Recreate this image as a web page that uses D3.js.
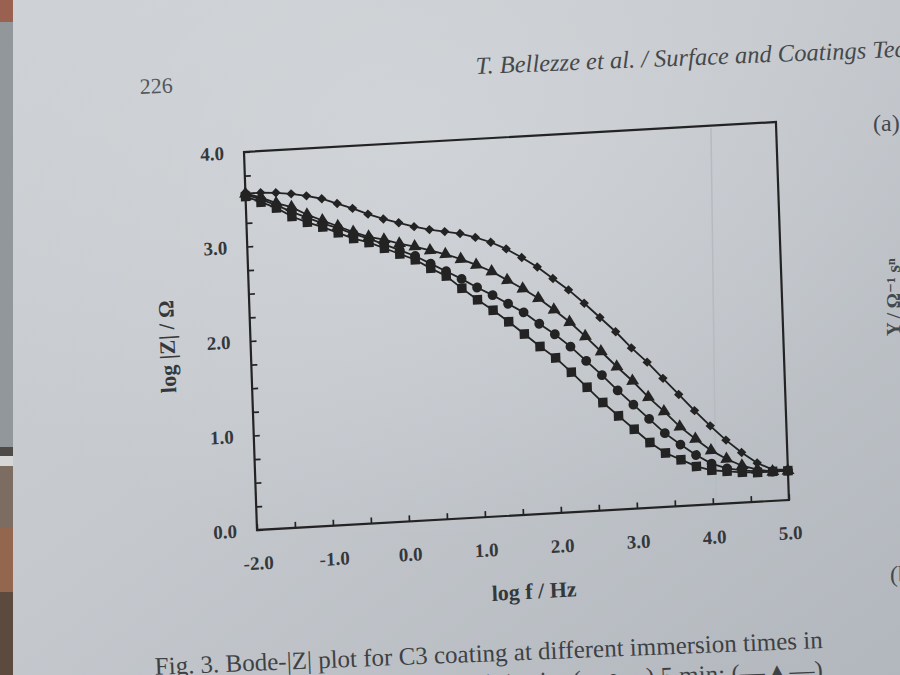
<!DOCTYPE html>
<html>
<head>
<meta charset="utf-8">
<script src="https://cdn.jsdelivr.net/npm/d3@7"></script>
<style>
  html, body { margin: 0; padding: 0; background: #c4c8cd; }
  svg { display: block; }
</style>
</head>
<body>
<svg id="chart" width="900" height="675"></svg>
<script>
// Bode |Z| plot, C3 coating, four immersion times
const logF = [-2.0, -1.8, -1.6, -1.4, -1.2, -1.0, -0.8, -0.6, -0.4, -0.2,
               0.0,  0.2,  0.4,  0.6,  0.8,  1.0,  1.2,  1.4,  1.6,  1.8,
               2.0,  2.2,  2.4,  2.6,  2.8,  3.0,  3.2,  3.4,  3.6,  3.8,
               4.0,  4.2,  4.4,  4.6,  4.8,  5.0];

const zDiamond  = [3.56, 3.56, 3.55, 3.53, 3.50, 3.46, 3.40, 3.34, 3.27, 3.21,
                   3.16, 3.11, 3.07, 3.04, 3.01, 2.96, 2.90, 2.82, 2.72, 2.61,
                   2.48, 2.35, 2.20, 2.04, 1.88, 1.70, 1.54, 1.36, 1.18, 1.00,
                   0.83, 0.67, 0.53, 0.41, 0.33, 0.32];
const zTriangle = [3.56, 3.51, 3.44, 3.39, 3.30, 3.23, 3.16, 3.09, 3.03, 2.99,
                   2.94, 2.90, 2.85, 2.80, 2.74, 2.67, 2.59, 2.49, 2.39, 2.28,
                   2.15, 2.01, 1.85, 1.68, 1.51, 1.35, 1.17, 1.01, 0.84, 0.70,
                   0.57, 0.47, 0.39, 0.34, 0.31, 0.31];
const zCircle   = [3.55, 3.49, 3.42, 3.34, 3.27, 3.20, 3.14, 3.07, 3.01, 2.94,
                   2.87, 2.80, 2.71, 2.62, 2.53, 2.43, 2.34, 2.24, 2.14, 2.01,
                   1.89, 1.75, 1.59, 1.43, 1.26, 1.10, 0.94, 0.78, 0.65, 0.53,
                   0.43, 0.37, 0.34, 0.32, 0.31, 0.31];
const zSquare   = [3.53, 3.46, 3.39, 3.29, 3.22, 3.16, 3.09, 3.02, 2.97, 2.90,
                   2.83, 2.76, 2.66, 2.57, 2.43, 2.30, 2.18, 2.05, 1.91, 1.77,
                   1.64, 1.48, 1.31, 1.14, 0.99, 0.84, 0.69, 0.57, 0.49, 0.41,
                   0.36, 0.34, 0.32, 0.31, 0.31, 0.31];

const xTicks = [-2.0, -1.5, -1.0, -0.5, 0.0, 0.5, 1.0, 1.5, 2.0, 2.5, 3.0, 3.5, 4.0, 4.5, 5.0];
const yTicks = [0.0, 0.25, 0.5, 0.75, 1.0, 1.25, 1.5, 1.75, 2.0, 2.25, 2.5, 2.75, 3.0, 3.25, 3.5, 3.75, 4.0];

const series = [
  { name: 'diamond',  values: zDiamond,  symbol: d3.symbolSquare,   size: 44, rotate: 45 },
  { name: 'triangle', values: zTriangle, symbol: d3.symbolTriangle, size: 72, rotate: 0 },
  { name: 'circle',   values: zCircle,   symbol: d3.symbolCircle,   size: 76, rotate: 0 },
  { name: 'square',   values: zSquare,   symbol: d3.symbolSquare,   size: 90, rotate: 0 }
];

const W = 533, H = 378;
const ink = '#232323';
const serif = '"Liberation Serif", "DejaVu Serif", serif';

const svg = d3.select('#chart');
const defs = svg.append('defs');

// paper background
const paper = defs.append('linearGradient').attr('id', 'paper')
  .attr('x1', 0).attr('y1', 0).attr('x2', 1).attr('y2', 1);
paper.append('stop').attr('offset', '0%').attr('stop-color', '#cdd1d5');
paper.append('stop').attr('offset', '45%').attr('stop-color', '#c5c9ce');
paper.append('stop').attr('offset', '100%').attr('stop-color', '#b2b7bd');
const glow = defs.append('radialGradient').attr('id', 'glow')
  .attr('cx', 0.45).attr('cy', 0.2).attr('r', 0.6);
glow.append('stop').attr('offset', '0%').attr('stop-color', '#d6d9dc').attr('stop-opacity', 0.6);
glow.append('stop').attr('offset', '100%').attr('stop-color', '#d6d9dc').attr('stop-opacity', 0);

svg.append('rect').attr('width', 900).attr('height', 675).attr('fill', 'url(#paper)');
svg.append('rect').attr('width', 900).attr('height', 675).attr('fill', 'url(#glow)');

// dark edge of the next page on the left
const edge = [
  { y0: 0,   y1: 22,  c: '#9a6050' },
  { y0: 22,  y1: 447, c: '#92979c' },
  { y0: 447, y1: 456, c: '#4e4a48' },
  { y0: 456, y1: 466, c: '#d6d6d6' },
  { y0: 466, y1: 528, c: '#7c6c62' },
  { y0: 528, y1: 592, c: '#94664e' },
  { y0: 592, y1: 675, c: '#5c4a3e' }
];
svg.append('g').selectAll('rect').data(edge).join('rect')
  .attr('x', 0).attr('width', 13)
  .attr('y', d => d.y0).attr('height', d => d.y1 - d.y0)
  .attr('fill', d => d.c);

// faint show-through line from the reverse page
svg.append('line').attr('x1', 711).attr('y1', 128).attr('x2', 716).attr('y2', 505)
  .attr('stroke', '#b6bbc1').attr('stroke-width', 1.5);

// page header
svg.append('text').attr('x', 140).attr('y', 94)
  .attr('transform', 'rotate(-2.3,140,94)')
  .attr('font-family', serif).attr('font-size', 22).attr('fill', '#55585b')
  .text('226');
svg.append('text').attr('x', 476).attr('y', 74)
  .attr('transform', 'rotate(-2.3,476,74)')
  .attr('font-family', serif).attr('font-style', 'italic').attr('font-size', 24.5)
  .attr('fill', '#45484b')
  .text('T. Bellezze et al. / Surface and Coatings Technology');

// neighbouring panel, cut by the frame
svg.append('text').attr('x', 873).attr('y', 131)
  .attr('font-family', serif).attr('font-size', 24).attr('fill', '#45484b')
  .text('(a)');
svg.append('text').attr('x', 890).attr('y', 582)
  .attr('font-family', serif).attr('font-size', 24).attr('fill', '#45484b')
  .text('(b)');
svg.append('text')
  .attr('transform', 'translate(900,336) rotate(-90)')
  .attr('font-family', serif).attr('font-weight', 'bold').attr('font-size', 19)
  .attr('fill', '#45484b')
  .text('Y / Ω⁻¹ sⁿ');

// caption
svg.append('text').attr('x', 823).attr('y', 648)
  .attr('transform', 'rotate(-2.3,823,648)')
  .attr('text-anchor', 'end')
  .attr('font-family', serif).attr('font-size', 25).attr('fill', '#3e4144')
  .text('Fig. 3. Bode-|Z| plot for C3 coating at different immersion times in');
svg.append('text').attr('x', 823).attr('y', 678)
  .attr('transform', 'rotate(-2.3,823,678)')
  .attr('text-anchor', 'end')
  .attr('font-family', serif).attr('font-size', 25).attr('fill', '#3e4144')
  .text('3.5% NaCl solution: (—■—) 1 min; (—●—) 5 min; (—▲—)');

// plot area, skewed like the photographed page
const g = svg.append('g')
  .attr('transform', 'matrix(0.998,-0.0563,0.0344,1,244,152)');

const x = d3.scaleLinear().domain([-2, 5]).range([0, W]);
const y = d3.scaleLinear().domain([0, 4]).range([H, 0]);

const fmt = d => Math.abs(d - Math.round(d)) < 1e-9 ? d.toFixed(1) : '';

const xAxis = g.append('g').attr('transform', `translate(0,${H})`)
  .call(d3.axisBottom(x).tickValues(xTicks).tickSize(-6).tickPadding(26).tickFormat(fmt));
const yAxis = g.append('g')
  .call(d3.axisLeft(y).tickValues(yTicks).tickSize(-6).tickPadding(20).tickFormat(fmt));

[xAxis, yAxis].forEach(a => {
  a.select('.domain').remove();
  a.selectAll('line').attr('stroke', ink).attr('stroke-width', 1.7);
  a.selectAll('text')
    .attr('fill', '#35383b')
    .attr('font-family', serif).attr('font-weight', 'bold').attr('font-size', 19);
});

g.append('rect').attr('width', W).attr('height', H)
  .attr('fill', 'none').attr('stroke', ink).attr('stroke-width', 2.2);

const line = d3.line().x((d, i) => x(logF[i])).y(d => y(d));

series.forEach(s => {
  const sg = g.append('g').attr('class', 'series-' + s.name);
  sg.append('path').datum(s.values)
    .attr('d', line)
    .attr('fill', 'none').attr('stroke', ink).attr('stroke-width', 1.8);
  sg.selectAll('path.mark').data(s.values).join('path')
    .attr('class', 'mark')
    .attr('d', d3.symbol().type(s.symbol).size(s.size))
    .attr('transform', (d, i) => `translate(${x(logF[i])},${y(d)}) rotate(${s.rotate})`)
    .attr('fill', ink);
});

// axis titles
g.append('text').attr('x', 275).attr('y', 462)
  .attr('text-anchor', 'middle')
  .attr('font-family', serif).attr('font-weight', 'bold').attr('font-size', 22)
  .attr('fill', '#35383b')
  .text('log f / Hz');
g.append('text')
  .attr('transform', 'translate(-76,190) rotate(-90)')
  .attr('text-anchor', 'middle')
  .attr('font-family', serif).attr('font-weight', 'bold').attr('font-size', 22)
  .attr('fill', '#35383b')
  .text('log |Z| / Ω');
</script>
</body>
</html>
